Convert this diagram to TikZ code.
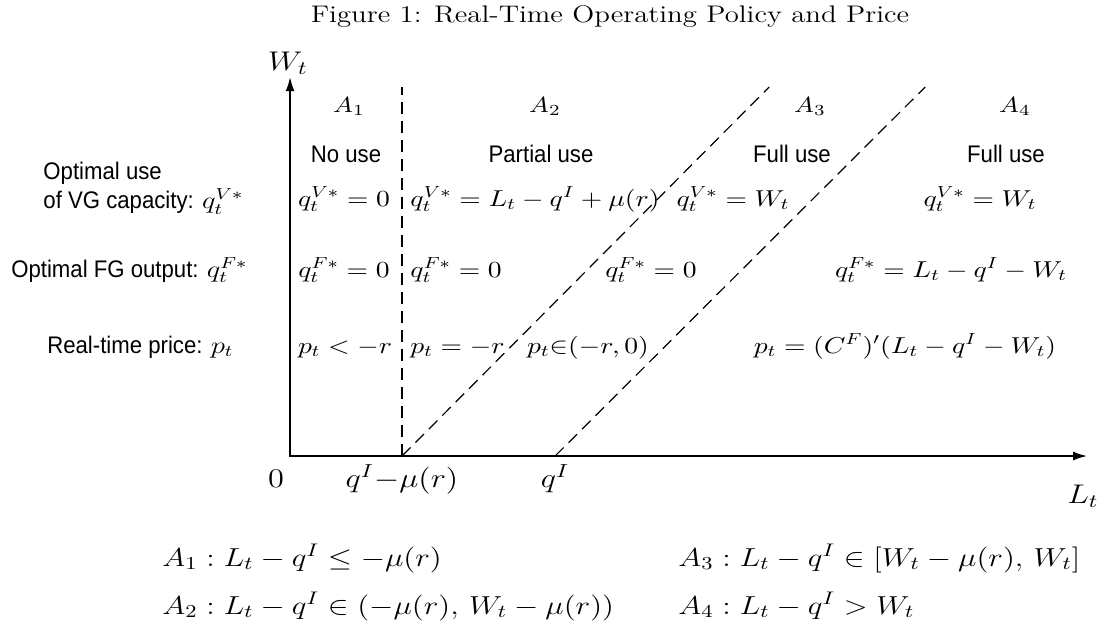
\RequirePackage{fix-cm}
\documentclass[tikz,border=0pt]{standalone}
\usepackage{amsmath}
\usepackage{fontspec}
\newfontfamily\labelsf[FakeStretch=0.77]{Liberation Sans}
\usetikzlibrary{arrows.meta}

\begin{document}
\begin{tikzpicture}[x=0.41667pt, y=-0.5pt, xscale=1.2,
    every node/.append style={transform shape, inner sep=0pt},
    capt/.style={font=\fontsize{12}{14}\selectfont},
    regn/.style={font=\fontsize{11}{13}\selectfont},
    usage/.style={font=\labelsf\fontsize{12}{14.5}\selectfont},
    eqn/.style={font=\fontsize{11.5}{13}\selectfont},
    tick/.style={font=\fontsize{13.5}{15}\selectfont},
    cond/.style={font=\fontsize{13}{15}\selectfont},
    axis/.style={line width=0.9pt, {Latex[length=7pt,width=4.4pt]}-{Latex[length=7pt,width=4.4pt]}},
    bound/.style={line width=0.6pt, dash pattern=on 6pt off 3.5pt}]
    \useasboundingbox (0,0) rectangle (1101,622);
    % title
    \node[capt, anchor=base] (title) at (610,22) {Figure 1: Real-Time Operating Policy and Price};
    % axes
    \coordinate (orig) at (290,456);
    \coordinate (ytop) at (290,77);
    \coordinate (xend) at (1087,456);
    \draw[axis] (ytop) -- (orig) -- (xend);
    \node[tick, anchor=base] (wlab) at (288,70) {$W_t$};
    \node[tick, anchor=base] (llab) at (1083,503) {$L_t$};
    \node[tick, anchor=base] (zero) at (276,487) {$0$};
    \node[tick, anchor=base] (qmu) at (402,487) {$q^I{-}\mu(r)$};
    \node[tick, anchor=base] (qi) at (555,487) {$q^I$};
    % region boundaries
    \coordinate (b1) at (402,456);
    \coordinate (b1top) at (402,87);
    \coordinate (b2top) at (769,87);
    \coordinate (b3) at (555,456);
    \coordinate (b3top) at (925,87);
    \draw[bound] (b1) -- (b1top);
    \draw[bound] (b1) -- (b2top);
    \draw[bound] (b3) -- (b3top);
    % region names: x / index
    \foreach \x/\i in {349/1, 545/2, 810/3, 1015/4}{
        \node[regn, anchor=base] (a\i) at (\x,112) {$A_\i$};
    }
    \node[usage, anchor=base] (u1) at (346,162) {No use};
    \node[usage, anchor=base] (u2) at (541,162) {Partial use};
    \node[usage, anchor=base] (u3) at (792,162) {Full use};
    \node[usage, anchor=base] (u4) at (1006,162) {Full use};
    % row labels
    \node[usage, anchor=west, align=left] (vglab) at (43,188) {Optimal use\\of VG capacity: $q_t^{V*}$};
    \node[usage, anchor=base east] (fglab) at (248,277) {Optimal FG output: $q_t^{F*}$};
    \node[usage, anchor=base east] (prlab) at (234,353) {Real-time price: $p_t$};
    % VG capacity row
    \node[eqn, anchor=base] (v1) at (344,206) {$q_t^{V*}=0$};
    \node[eqn, anchor=base west] (v2) at (410,206) {$q_t^{V*}=L_t-q^I+\mu(r)$};
    \node[eqn, anchor=base] (v3) at (733,206) {$q_t^{V*}=W_t$};
    \node[eqn, anchor=base] (v4) at (980,206) {$q_t^{V*}=W_t$};
    % FG output row
    \node[eqn, anchor=base] (f1) at (344,277) {$q_t^{F*}=0$};
    \node[eqn, anchor=base west] (f2) at (410,277) {$q_t^{F*}=0$};
    \node[eqn, anchor=base] (f3) at (651,277) {$q_t^{F*}=0$};
    \node[eqn, anchor=base] (f4) at (951,277) {$q_t^{F*}=L_t-q^I-W_t$};
    % price row
    \node[eqn, anchor=base] (p1) at (345,353) {$p_t<-r$};
    \node[eqn, anchor=base west] (p2) at (410,353) {$p_t=-r$};
    \node[eqn, anchor=base] (p3) at (588,353) {$p_t{\in}(-r,0)$};
    \node[eqn, anchor=base] (p4) at (905,353) {$p_t=(C^F)'(L_t-q^I-W_t)$};
    % region conditions
    \node[cond, anchor=base west] (c1) at (162,566) {$A_1: L_t-q^I\le-\mu(r)$};
    \node[cond, anchor=base west] (c2) at (162,614) {$A_2: L_t-q^I\in(-\mu(r),\,W_t-\mu(r))$};
    \node[cond, anchor=base west] (c3) at (678,566) {$A_3: L_t-q^I\in[W_t-\mu(r),\,W_t]$};
    \node[cond, anchor=base west] (c4) at (678,614) {$A_4: L_t-q^I>W_t$};
\end{tikzpicture}
\end{document}
